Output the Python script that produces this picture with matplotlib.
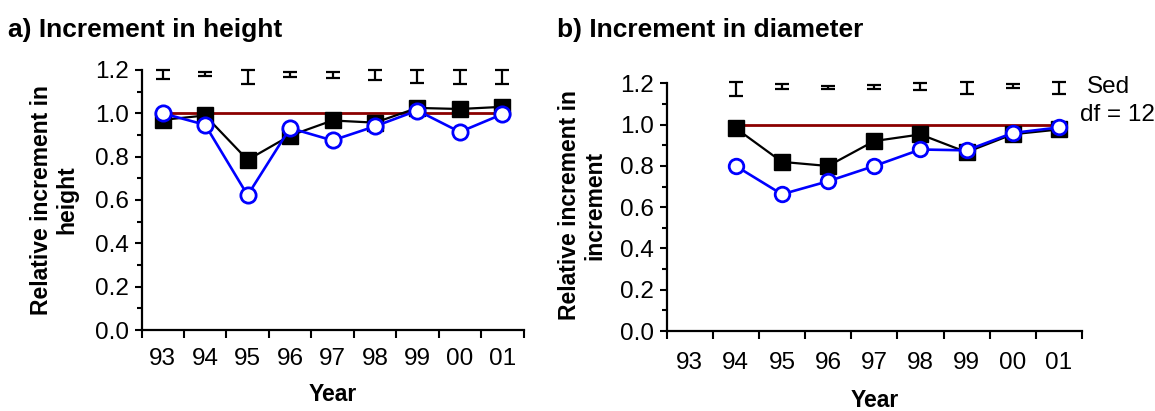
import numpy as np
import matplotlib
matplotlib.use("Agg")
import matplotlib.pyplot as plt
from matplotlib.ticker import MultipleLocator, FixedLocator, NullFormatter, FixedFormatter

plt.rcParams['font.family'] = ['Liberation Sans', 'DejaVu Sans']

# ---- data ----
years = ['93', '94', '95', '96', '97', '98', '99', '00', '01']

height_years = ['93', '94', '95', '96', '97', '98', '99', '00', '01']
height_black = [0.97, 0.99, 0.785, 0.897, 0.967, 0.957, 1.025, 1.02, 1.03]
height_blue = [1.0, 0.947, 0.622, 0.932, 0.875, 0.94, 1.013, 0.914, 0.996]
height_sed_center = [1.179, 1.181, 1.167, 1.178, 1.178, 1.177, 1.169, 1.168, 1.168]
height_sed_half = [0.019, 0.010, 0.032, 0.012, 0.015, 0.022, 0.029, 0.031, 0.031]

diam_years = ['94', '95', '96', '97', '98', '99', '00', '01']
diam_black = [0.983, 0.82, 0.80, 0.921, 0.953, 0.867, 0.954, 0.977]
diam_blue = [0.80, 0.663, 0.726, 0.80, 0.88, 0.876, 0.96, 0.987]
diam_sed_center = [1.171, 1.186, 1.182, 1.183, 1.185, 1.177, 1.188, 1.177]
diam_sed_half = [0.034, 0.012, 0.008, 0.010, 0.016, 0.028, 0.010, 0.028]

reference_level = 1.0

W, H = 1155, 411
fig = plt.figure(figsize=(W / 100, H / 100), dpi=100)

def px_axes(x0, x1, ytop, ybot):
    return fig.add_axes([x0 / W, 1 - ybot / H, (x1 - x0) / W, (ybot - ytop) / H])

axA = px_axes(141.5, 523.5, 70, 330)
axB = px_axes(666.5, 1082, 83.5, 331)

TICK_FS = 17.5
LABEL_FS = 16.5

def style(ax, xpad):
    for s in ['top', 'right']:
        ax.spines[s].set_visible(False)
    for s in ['left', 'bottom']:
        ax.spines[s].set_linewidth(1.6)
    ax.set_xlim(0, len(years))
    ax.set_ylim(0, 1.2)
    ax.yaxis.set_major_locator(MultipleLocator(0.2))
    ax.yaxis.set_minor_locator(MultipleLocator(0.1))
    ax.yaxis.set_major_formatter(matplotlib.ticker.FormatStrFormatter('%.1f'))
    ax.tick_params(axis='y', which='major', direction='out', length=5, width=1.5,
                   labelsize=TICK_FS, pad=4)
    ax.tick_params(axis='y', which='minor', direction='out', length=3.5, width=1.5)
    ax.xaxis.set_major_locator(FixedLocator(np.arange(len(years) + 1)))
    ax.xaxis.set_major_formatter(NullFormatter())
    ax.xaxis.set_minor_locator(FixedLocator(np.arange(len(years)) + 0.5))
    ax.xaxis.set_minor_formatter(FixedFormatter(years))
    ax.tick_params(axis='x', which='major', direction='out', length=6, width=1.5)
    ax.tick_params(axis='x', which='minor', length=0, labelsize=TICK_FS, pad=xpad)

def plot_panel(ax, ylist, black, blue, sc, sh, sq_ms, circ_ms, xpad):
    pos = [years.index(y) + 0.5 for y in ylist]
    ax.plot([pos[0], pos[-1]], [reference_level, reference_level], color='#8B0000',
            lw=2.0, zorder=1, solid_capstyle='butt')
    ax.plot(pos, black, color='black', lw=1.6, marker='s', ms=sq_ms,
            mfc='black', mec='black', zorder=2, clip_on=False)
    ax.plot(pos, blue, color='#0000FF', lw=1.9, marker='o', ms=circ_ms,
            mfc='white', mec='#0000FF', mew=2.0, zorder=3, clip_on=False)
    ax.errorbar(pos, sc, yerr=sh, fmt='none', ecolor='black', elinewidth=1.6,
                capsize=4.8, capthick=1.6, clip_on=False, zorder=4)
    style(ax, xpad)

plot_panel(axA, height_years, height_black, height_blue,
           height_sed_center, height_sed_half, 11.5, 11.0, 13)
plot_panel(axB, diam_years, diam_black, diam_blue,
           diam_sed_center, diam_sed_half, 11.0, 10.5, 15)

axA.set_xlabel('Year', fontsize=LABEL_FS, fontweight='bold', labelpad=9)
axB.set_xlabel('Year', fontsize=LABEL_FS, fontweight='bold', labelpad=11)

fig.text(54 / W, 1 - 200 / H, 'Relative increment in\nheight', rotation=90,
         ha='center', va='center', multialignment='center',
         fontsize=LABEL_FS, fontweight='bold', linespacing=1.1)
fig.text(582 / W, 1 - 205 / H, 'Relative increment in\nincrement', rotation=90,
         ha='center', va='center', multialignment='center',
         fontsize=LABEL_FS, fontweight='bold', linespacing=1.1)

fig.text(8 / W, 1 - 37 / H, 'a) Increment in height', ha='left', va='baseline',
         fontsize=19, fontweight='bold')
fig.text(557 / W, 1 - 37 / H, 'b) Increment in diameter', ha='left', va='baseline',
         fontsize=19, fontweight='bold')

fig.text(1108 / W, 1 - 87 / H, 'Sed', ha='center', va='center', fontsize=TICK_FS)
fig.text(1117 / W, 1 - 115 / H, 'df = 12', ha='center', va='center', fontsize=TICK_FS)

fig.savefig('out.png', dpi=100)
